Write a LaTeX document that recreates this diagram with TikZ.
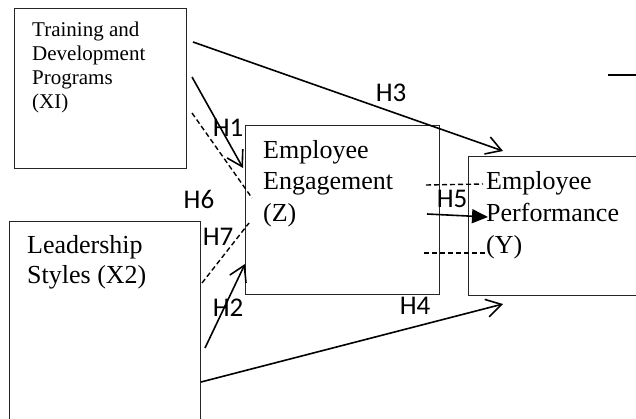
\documentclass[tikz,border=0pt]{standalone}
\usepackage{fontspec}
\setmainfont{Liberation Serif}
\newfontfamily\hfont{Carlito}
\usetikzlibrary{arrows.meta}
\begin{document}
\begin{tikzpicture}[x=1pt,y=-1pt,
  box/.style={draw=black!85, line width=1.3pt, inner sep=0pt, anchor=north west},
  boxtext/.style={anchor=north west, inner sep=0pt, align=left},
  hlabel/.style={font=\hfont\fontsize{27}{27}\selectfont, inner sep=0pt},
  link/.style={line width=1.6pt, -{Straight Barb[length=15pt,width=18pt,line width=1.6pt]}},
  solidlink/.style={line width=1.6pt, -{Triangle[length=16pt,width=14pt]}},
  dlink/.style={line width=1.4pt, dash pattern=on 5pt off 3pt},
  plain/.style={line width=1.6pt}
]
\useasboundingbox (0,0) rectangle (636,419);
\begin{scope}
\clip (0,0) rectangle (636,419);
% boxes
\node[box, minimum width=172pt, minimum height=160pt] (td) at (14,8) {};
\node[box, minimum width=194pt, minimum height=169pt] (ee) at (245,125) {};
\node[box, minimum width=185pt, minimum height=139pt] (ep) at (468,156) {};
\node[box, minimum width=191pt, minimum height=215pt] (ls) at (9,221) {};
% box texts
\node[boxtext, font=\fontsize{21}{24}\selectfont] (tdt) at (32,22)
  {Training and\\Development\\Programs\\(XI)};
\node[boxtext, font=\fontsize{26}{31.5}\selectfont] (eet) at (263,140)
  {Employee\\Engagement\\(Z)};
\node[boxtext, font=\fontsize{26}{32}\selectfont] (ept) at (486,171)
  {Employee\\Performance\\(Y)};
\node[boxtext, font=\fontsize{26}{30}\selectfont] (lst) at (27,235)
  {Leadership\\Styles (X2)};
% connector end points
\coordinate (h3s) at (193,42);  \coordinate (h3e) at (503,151);
\coordinate (h1s) at (192,77);  \coordinate (h1e) at (243,168);
\coordinate (h6s) at (192,113); \coordinate (h6e) at (252,198);
\coordinate (h7s) at (202,283); \coordinate (h7e) at (249,223);
\coordinate (h2s) at (205,348); \coordinate (h2e) at (245,264);
\coordinate (h4s) at (201,382); \coordinate (h4e) at (503,304);
\coordinate (h5s) at (427,214); \coordinate (h5e) at (488,217);
\coordinate (dus) at (426,185); \coordinate (due) at (483,184);
\coordinate (dls) at (424,253); \coordinate (dle) at (485,253);
\coordinate (trs) at (608,75);  \coordinate (tre) at (640,75);
% connectors
\draw[link] (h3s) -- (h3e);
\draw[link] (h1s) -- (h1e);
\draw[dlink] (h6s) -- (h6e);
\draw[dlink] (h7s) -- (h7e);
\draw[link] (h2s) -- (h2e);
\draw[link] (h4s) -- (h4e);
\draw[solidlink] (h5s) -- (h5e);
\draw[dlink] (dus) -- (due);
\draw[dlink] (dls) -- (dle);
\draw[plain] (trs) -- (tre);
% labels
\node[hlabel] (l3) at (391,93) {H3};
\node[hlabel] (l1) at (228,128) {H1};
\node[hlabel] (l6) at (199,199) {H6};
\node[hlabel] (l7) at (218,237) {H7};
\node[hlabel] (l2) at (228,308) {H2};
\node[hlabel] (l4) at (415,306) {H4};
\node[hlabel] (l5) at (452,199) {H5};
\end{scope}
\end{tikzpicture}
\end{document}
